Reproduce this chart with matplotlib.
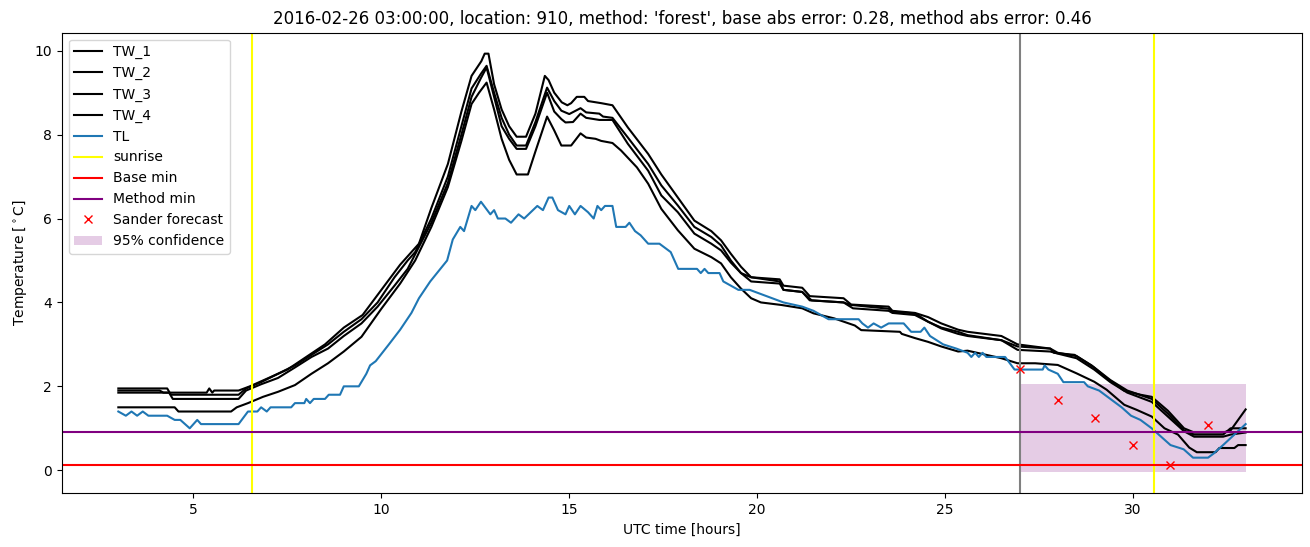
import matplotlib
matplotlib.use("Agg")
import matplotlib.pyplot as plt

# ---------------- data ----------------
tw1_t = [3, 4.1, 4.2, 5.35, 5.42, 5.5, 5.55, 6.2, 6.5, 7.0, 7.5, 8.0, 8.5, 9.0, 9.5, 10.0, 10.5, 11.0,
         11.33, 11.77, 12.13, 12.4, 12.66, 12.75, 12.85, 13.0, 13.2, 13.4, 13.6, 13.85, 14.1, 14.35, 14.45,
         14.6, 14.8, 14.95, 15.05, 15.2, 15.4, 15.5, 15.85, 16.15, 16.56, 17.1, 17.45, 17.89, 18.33, 18.78,
         19.04, 19.3, 19.57, 19.84, 20.6, 20.7, 21.2, 21.4, 22.3, 22.5, 23.5, 23.6, 24.2, 24.55, 24.9, 25.35,
         25.6, 26.5, 26.93, 27.8, 27.9, 28.45, 28.9, 29.3, 29.76, 30.2, 30.5, 30.93, 31.36, 31.63, 32.4,
         32.6, 33.0]
tw1_v = [1.9, 1.9, 1.85, 1.85, 1.95, 1.85, 1.9, 1.9, 2.0, 2.2, 2.4, 2.7, 3.0, 3.4, 3.7, 4.3, 4.9, 5.4,
         6.25, 7.3, 8.55, 9.4, 9.75, 9.93, 9.93, 9.2, 8.6, 8.2, 7.95, 7.95, 8.5, 9.4, 9.3,
         9.0, 8.77, 8.7, 8.75, 8.9, 8.9, 8.8, 8.75, 8.7, 8.17, 7.54, 7.05, 6.5, 5.95, 5.7,
         5.48, 5.16, 4.85, 4.6, 4.55, 4.4, 4.35, 4.15, 4.1, 3.95, 3.9, 3.8, 3.75, 3.65, 3.5, 3.35,
         3.3, 3.2, 3.0, 2.9, 2.8, 2.75, 2.5, 2.2, 1.9, 1.8, 1.75, 1.42, 1.0, 0.9, 0.9,
         0.95, 1.45]

tw2_t = [3, 4.3, 4.4, 6.2, 6.4, 6.8, 7.25, 7.7, 8.14, 8.58, 9.0, 9.47, 9.9, 10.35, 10.7, 10.9, 11.33,
         11.77, 12.13, 12.4, 12.65, 12.8, 13.0, 13.2, 13.4, 13.6, 13.85, 14.1, 14.41, 14.6, 14.79, 15.0,
         15.3, 15.45, 15.8, 15.9, 16.15, 16.56, 17.1, 17.45, 17.89, 18.33, 18.78, 19.04, 19.3, 19.57,
         19.84, 20.6, 20.7, 21.2, 21.4, 22.3, 22.5, 23.5, 23.6, 24.2, 24.55, 24.9, 25.35, 25.6, 26.5,
         26.93, 27.8, 28.0, 28.5, 28.97, 29.4, 29.85, 30.5, 30.93, 31.36, 31.63, 32.4, 32.6, 33.0]
tw2_v = [1.95, 1.95, 1.8, 1.8, 1.95, 2.1, 2.3, 2.5, 2.75, 3.0, 3.3, 3.6, 4.0, 4.6, 5.0, 5.2, 6.0,
         7.0, 8.2, 9.1, 9.45, 9.64, 9.0, 8.4, 8.0, 7.74, 7.74, 8.3, 9.12, 8.8, 8.57, 8.49,
         8.63, 8.53, 8.5, 8.43, 8.4, 7.93, 7.3, 6.79, 6.31, 5.8, 5.56, 5.36, 5.0, 4.7,
         4.6, 4.5, 4.3, 4.25, 4.05, 4.0, 3.94, 3.85, 3.78, 3.74, 3.54, 3.4, 3.3, 3.22, 3.1,
         2.95, 2.9, 2.8, 2.72, 2.45, 2.15, 1.9, 1.7, 1.35, 0.95, 0.85, 0.85, 1.0, 1.0]

tw3_t = [3, 4.35, 4.45, 6.2, 6.4, 6.8, 7.25, 7.7, 8.14, 8.58, 9.0, 9.47, 9.9, 10.35, 10.7, 11.33, 11.77,
         12.13, 12.4, 12.65, 12.8, 13.0, 13.2, 13.4, 13.6, 13.85, 14.1, 14.41, 14.6, 14.79, 14.9, 15.1,
         15.3, 15.45, 15.8, 16.15, 16.56, 17.1, 17.45, 17.89, 18.33, 18.78, 19.04, 19.3, 19.57, 19.84,
         20.6, 20.7, 21.2, 21.45, 22.3, 22.55, 23.5, 23.6, 24.2, 24.55, 24.9, 25.35, 25.6, 26.5, 26.93,
         27.8, 28.0, 28.5, 28.97, 29.4, 29.85, 30.5, 30.93, 31.36, 31.63, 32.4, 32.6, 33.0]
tw3_v = [1.85, 1.85, 1.7, 1.7, 1.9, 2.05, 2.2, 2.45, 2.7, 2.9, 3.2, 3.5, 3.9, 4.4, 4.8, 5.9, 6.85,
         8.0, 8.9, 9.35, 9.6, 8.9, 8.2, 7.9, 7.66, 7.66, 8.2, 9.0, 8.55, 8.37, 8.29, 8.3,
         8.5, 8.4, 8.35, 8.35, 7.78, 7.14, 6.55, 6.15, 5.64, 5.4, 5.24, 4.95, 4.7, 4.5,
         4.45, 4.3, 4.25, 4.05, 4.0, 3.86, 3.8, 3.75, 3.7, 3.54, 3.38, 3.25, 3.2, 3.1, 2.87,
         2.83, 2.78, 2.67, 2.4, 2.1, 1.85, 1.63, 1.28, 0.93, 0.8, 0.8, 0.85, 0.9]

tw4_t = [3, 4.5, 4.6, 6.0, 6.15, 6.45, 6.85, 7.25, 7.7, 8.14, 8.58, 9.0, 9.47, 10.0, 10.5, 10.9, 11.33,
         11.77, 12.13, 12.4, 12.6, 12.8, 13.0, 13.2, 13.4, 13.6, 13.9, 14.1, 14.41, 14.6, 14.79, 15.05,
         15.3, 15.45, 15.7, 15.85, 16.15, 16.38, 16.8, 17.1, 17.45, 17.89, 18.33, 18.78, 19.04, 19.3,
         19.57, 19.84, 20.1, 20.64, 21.2, 21.5, 22.05, 22.6, 22.77, 23.8, 23.85, 24.2, 24.55, 24.9, 25.35,
         25.6, 26.5, 26.93, 27.4, 28.0, 28.5, 28.97, 29.3, 29.77, 30.1, 30.5, 30.84, 31.2, 31.5, 31.7,
         32.2, 32.3, 32.7, 32.8, 33.0]
tw4_v = [1.5, 1.5, 1.4, 1.4, 1.5, 1.6, 1.75, 1.87, 2.03, 2.3, 2.55, 2.83, 3.18, 3.85, 4.45, 5.0, 5.8,
         6.75, 7.85, 8.73, 9.0, 9.24, 8.6, 7.9, 7.4, 7.05, 7.05, 7.6, 8.43, 8.1, 7.74, 7.74,
         8.03, 7.93, 7.9, 7.85, 7.8, 7.62, 7.22, 6.83, 6.23, 5.72, 5.28, 5.08, 4.93, 4.6,
         4.33, 4.1, 4.0, 3.94, 3.86, 3.74, 3.62, 3.45, 3.34, 3.3, 3.25, 3.15, 3.06, 2.95, 2.83,
         2.85, 2.67, 2.55, 2.55, 2.51, 2.31, 2.11, 1.92, 1.56, 1.44, 1.28, 1.0, 0.85, 0.54, 0.43,
         0.43, 0.53, 0.53, 0.6, 0.6]

tl_t = [3.0, 3.2, 3.35, 3.5, 3.65, 3.8, 4.3, 4.5, 4.65, 4.9, 5.1, 5.2, 6.2, 6.45, 6.7, 6.8, 6.95, 7.05,
        7.6, 7.7, 7.95, 8.0, 8.1, 8.2, 8.5, 8.6, 8.9, 9.0, 9.4, 9.6, 9.7, 9.85, 10.2, 10.5, 10.8, 11.0,
        11.3, 11.75, 11.9, 12.1, 12.2, 12.4, 12.5, 12.65, 12.9, 13.0, 13.1, 13.3, 13.45, 13.65, 13.8,
        14.15, 14.3, 14.45, 14.55, 14.7, 14.9, 15.0, 15.15, 15.3, 15.5, 15.65, 15.75, 15.85, 15.95,
        16.15, 16.25, 16.5, 16.6, 16.75, 16.9, 17.1, 17.4, 17.55, 17.7, 17.9, 18.4, 18.5, 18.6, 18.7,
        19.0, 19.1, 19.3, 19.5, 19.8, 20.1, 20.4, 20.7, 21.2, 21.5, 21.9, 22.7, 22.8, 22.95, 23.1,
        23.3, 23.5, 23.9, 24.1, 24.35, 24.45, 24.6, 24.95, 25.3, 25.6, 25.7, 25.8, 25.9, 26.0, 26.1,
        26.6, 26.85, 27.6, 27.65, 27.75, 28.0, 28.15, 28.7, 28.8, 29.1, 29.4, 29.7, 29.95, 30.2,
        30.5, 30.75, 31.0, 31.35, 31.6, 32.0, 32.15, 32.4, 32.7, 33.0]
tl_v = [1.4, 1.3, 1.4, 1.3, 1.4, 1.3, 1.3, 1.2, 1.2, 1.0, 1.2, 1.1, 1.1, 1.4, 1.4, 1.5, 1.4, 1.5,
        1.5, 1.6, 1.6, 1.7, 1.6, 1.7, 1.7, 1.8, 1.8, 2.0, 2.0, 2.3, 2.5, 2.6, 3.0, 3.35, 3.75, 4.1,
        4.5, 5.0, 5.5, 5.8, 5.7, 6.3, 6.2, 6.4, 6.1, 6.2, 6.0, 6.0, 5.9, 6.1, 6.0,
        6.3, 6.2, 6.5, 6.5, 6.2, 6.1, 6.3, 6.1, 6.3, 6.15, 6.0, 6.3, 6.2, 6.3,
        6.3, 5.8, 5.8, 5.9, 5.7, 5.6, 5.4, 5.4, 5.3, 5.2, 4.8, 4.8, 4.7, 4.8, 4.7,
        4.7, 4.5, 4.4, 4.3, 4.3, 4.2, 4.1, 4.0, 3.9, 3.8, 3.6, 3.6, 3.5, 3.4, 3.5,
        3.4, 3.5, 3.5, 3.3, 3.3, 3.4, 3.2, 3.0, 2.9, 2.8, 2.7, 2.8, 2.7, 2.8, 2.7,
        2.7, 2.4, 2.4, 2.5, 2.4, 2.3, 2.1, 2.1, 2.0, 1.9, 1.7, 1.5, 1.3, 1.2,
        1.0, 0.8, 0.6, 0.5, 0.3, 0.3, 0.4, 0.6, 0.85, 1.1]

sunrise_t = [6.55, 30.55]
forecast_start = 27.0
base_min = 0.13
method_min = 0.9
forecast_t = [27, 28, 29, 30, 31, 32]
forecast_v = [2.41, 1.68, 1.24, 0.60, 0.13, 1.08]
conf_t = [27, 33]
conf_lower = [-0.05, -0.05]
conf_upper = [2.05, 2.05]

title = ("2016-02-26 03:00:00, location: 910, method: 'forest', "
         "base abs error: 0.28, method abs error: 0.46")

# ---------------- plot ----------------
fig = plt.figure(figsize=(13.1, 5.47), dpi=100)
ax = fig.add_axes([0.0473, 0.0982, 0.9466, 0.842])

ax.plot(tw1_t, tw1_v, color='black', label='TW_1')
ax.plot(tw2_t, tw2_v, color='black', label='TW_2')
ax.plot(tw3_t, tw3_v, color='black', label='TW_3')
ax.plot(tw4_t, tw4_v, color='black', label='TW_4')
ax.plot(tl_t, tl_v, color='C0', label='TL')
ax.axvline(sunrise_t[0], color='yellow', label='sunrise')
ax.axvline(sunrise_t[1], color='yellow')
ax.axvline(forecast_start, color='gray')
ax.axhline(base_min, color='red', label='Base min')
ax.axhline(method_min, color='purple', label='Method min')
ax.plot(forecast_t, forecast_v, 'x', color='red', label='Sander forecast')
ax.fill_between(conf_t, conf_lower, conf_upper, color='purple', alpha=0.2,
                linewidth=0, label='95% confidence')

ax.set_title(title)
ax.set_xlabel('UTC time [hours]')
ax.set_ylabel(r'Temperature [$^\circ$C]')
ax.legend(loc='upper left')

fig.savefig('out.png', dpi=100)
